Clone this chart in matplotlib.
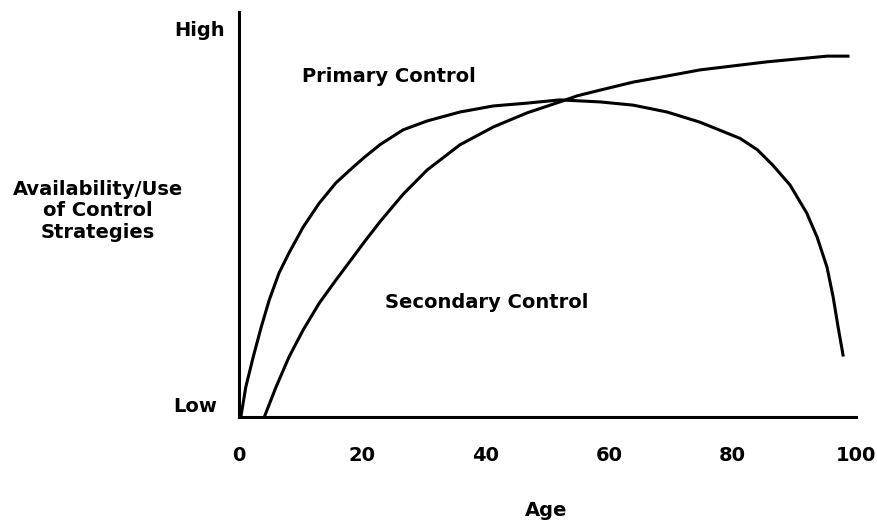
import matplotlib.pyplot as plt

# curves (age, level 0-100)
primary_age = [0.3, 1.1, 2.3, 3.6, 4.9, 6.5, 8.1, 10.4, 13.0, 15.7, 18.5, 20.3, 22.9,
               26.6, 30.5, 35.8, 41.2, 46.7, 52.0, 58.5, 63.9, 69.4, 74.7, 81.2,
               84.0, 86.5, 89.3, 92.0, 93.7, 95.3, 96.3, 97.1, 97.9]
primary_val = [0.0, 7.4, 14.8, 22.2, 28.9, 35.6, 40.5, 46.9, 52.8, 57.8, 61.7, 64.1, 67.3,
               70.9, 73.1, 75.3, 76.8, 77.5, 78.3, 77.8, 77.0, 75.3, 72.8, 68.8,
               66.0, 62.2, 57.3, 50.4, 44.4, 37.0, 29.6, 22.2, 15.3]

secondary_age = [4.1, 6.0, 8.1, 10.4, 13.0, 15.7, 18.5, 20.3, 22.9, 26.6, 30.5, 35.8,
                 41.2, 46.7, 52.0, 54.8, 58.5, 63.9, 69.4, 74.7, 85.6, 95.3, 98.7]
secondary_val = [0.0, 7.4, 14.8, 21.5, 28.1, 33.8, 39.5, 43.2, 48.3, 55.0, 61.0, 67.2,
                 71.6, 75.1, 77.8, 79.3, 80.7, 82.7, 84.2, 85.7, 87.7, 89.1, 89.1]

age_ticks = [0, 20, 40, 60, 80, 100]

W, H = 877, 520
fig = plt.figure(figsize=(W / 100, H / 100), dpi=100)
ax = fig.add_axes([239 / W, 103 / H, 617 / W, 405 / H])

font = dict(family='DejaVu Sans', weight='bold', size=14)

ax.plot(primary_age, primary_val, color='black', lw=2.2, clip_on=False,
        solid_joinstyle='round')
ax.plot(secondary_age, secondary_val, color='black', lw=2.2, clip_on=False,
        solid_joinstyle='round')

ax.set_xlim(0, 100)
ax.set_ylim(0, 100)
for s in ['top', 'right']:
    ax.spines[s].set_visible(False)
for s in ['left', 'bottom']:
    ax.spines[s].set_linewidth(2.2)

ax.set_xticks(age_ticks)
ax.set_xticklabels([str(t) for t in age_ticks], fontdict=font)
ax.tick_params(axis='x', length=0, pad=21)
ax.set_yticks([])


def px(x, y):
    return x / W, 1 - y / H


fig.text(*px(225, 36), 'High', ha='right', va='baseline', **font)
fig.text(*px(217, 412), 'Low', ha='right', va='baseline', **font)
fig.text(*px(98, 211), 'Availability/Use\nof Control\nStrategies',
         ha='center', va='center', multialignment='center', linespacing=1.15, **font)
fig.text(*px(546, 516), 'Age', ha='center', va='baseline', **font)
fig.text(*px(302, 82), 'Primary Control', ha='left', va='baseline', **font)
fig.text(*px(385, 308), 'Secondary Control', ha='left', va='baseline', **font)

fig.savefig('out.png', dpi=100, facecolor='white')
